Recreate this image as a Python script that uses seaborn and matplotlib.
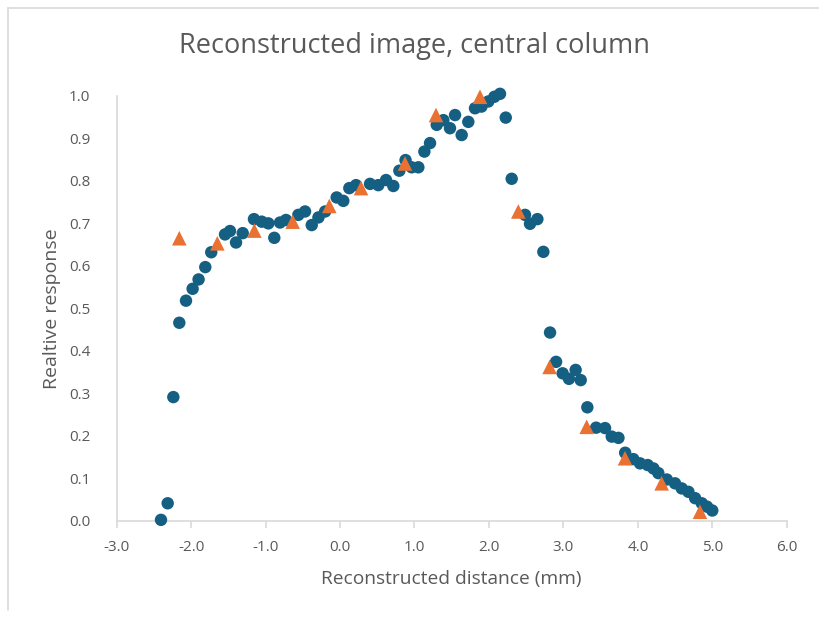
import pandas as pd
import matplotlib
matplotlib.use("Agg")
import matplotlib.pyplot as plt
import seaborn as sns

# measured profile (circles)
meas_x = [-2.405, -2.315, -2.239, -2.159, -2.069, -1.98, -1.90, -1.81, -1.73, -1.545, -1.478,
          -1.397, -1.307, -1.156, -1.052, -0.963, -0.883, -0.806, -0.726, -0.56, -0.47, -0.38,
          -0.29, -0.20, -0.045, 0.044, 0.125, 0.215, 0.403, 0.514, 0.618, 0.716, 0.797, 0.88,
          0.963, 1.052, 1.133, 1.209, 1.299, 1.388, 1.477, 1.545, 1.634, 1.723, 1.813, 1.90,
          1.992, 2.073, 2.149, 2.226, 2.306, 2.485, 2.552, 2.651, 2.731, 2.821, 2.902, 2.99,
          3.075, 3.165, 3.233, 3.322, 3.44, 3.56, 3.65, 3.74, 3.83, 3.94, 4.03, 4.133, 4.21,
          4.276, 4.39, 4.50, 4.59, 4.68, 4.77, 4.86, 4.93, 5.0]
meas_y = [0.002, 0.041, 0.291, 0.466, 0.518, 0.546, 0.568, 0.597, 0.632, 0.674, 0.682,
          0.655, 0.677, 0.710, 0.704, 0.700, 0.666, 0.702, 0.708, 0.720, 0.728, 0.696,
          0.714, 0.728, 0.761, 0.753, 0.783, 0.790, 0.793, 0.790, 0.802, 0.788, 0.824, 0.849,
          0.832, 0.832, 0.869, 0.889, 0.932, 0.943, 0.924, 0.955, 0.908, 0.939, 0.971, 0.975,
          0.987, 0.998, 1.005, 0.949, 0.805, 0.720, 0.699, 0.710, 0.633, 0.443, 0.374, 0.347,
          0.334, 0.355, 0.331, 0.267, 0.219, 0.218, 0.198, 0.195, 0.160, 0.145, 0.135, 0.131, 0.123,
          0.112, 0.097, 0.088, 0.076, 0.068, 0.053, 0.041, 0.033, 0.024]

# reconstructed samples (triangles)
tri_x = [-2.159, -1.648, -1.151, -0.636, -0.144, 0.282, 0.873, 1.289, 1.880, 2.395, 2.815,
         3.313, 3.828, 4.32, 4.835]
tri_y = [0.665, 0.653, 0.683, 0.704, 0.741, 0.783, 0.841, 0.955, 0.998, 0.728, 0.362,
         0.221, 0.147, 0.088, 0.021]

blue = "#156082"
orange = "#E97132"
grey_txt = "#595959"
grey_line = "#D9D9D9"

sns.set_theme(style="white")
plt.rcParams['font.family'] = ['Open Sans', 'DejaVu Sans']

meas = pd.DataFrame({"x": meas_x, "y": meas_y})
tri = pd.DataFrame({"x": tri_x, "y": tri_y})

fig = plt.figure(figsize=(8.2, 6.19), dpi=100)
ax = fig.add_axes([0.1423, 0.1588, 0.8171, 0.6862])

sns.scatterplot(data=meas, x="x", y="y", ax=ax, color=blue, s=80, marker="o",
                edgecolor="none", zorder=3, clip_on=False)
sns.scatterplot(data=tri, x="x", y="y", ax=ax, color=orange, s=110, marker="^",
                edgecolor="none", zorder=4, clip_on=False)

ax.set_xlim(-3, 6)
ax.set_ylim(0, 1.0)
ax.set_xticks([-3, -2, -1, 0, 1, 2, 3, 4, 5, 6])
ax.set_xticklabels([f"{v:.1f}" for v in [-3, -2, -1, 0, 1, 2, 3, 4, 5, 6]])
ax.set_yticks([i / 10 for i in range(11)])
ax.set_yticklabels([f"{i / 10:.1f}" for i in range(11)])

for side in ["top", "right"]:
    ax.spines[side].set_visible(False)
for side in ["left", "bottom"]:
    ax.spines[side].set_color(grey_line)
    ax.spines[side].set_linewidth(1.2)

ax.tick_params(axis="x", direction="out", length=5, width=1.2, color=grey_line,
               labelcolor=grey_txt, labelsize=11, pad=9, bottom=True)
ax.tick_params(axis="y", length=0, labelcolor=grey_txt, labelsize=11, pad=19, left=False)

ax.set_xlabel("Reconstructed distance (mm)", color=grey_txt, fontsize=13.8, labelpad=11)
ax.set_ylabel("Realtive response", color=grey_txt, fontsize=14, labelpad=6)
fig.text(0.506, 0.926, "Reconstructed image, central column", ha="center", va="center",
         color=grey_txt, fontsize=19.5)

# chart area border (top and left edges visible)
fig.add_artist(plt.Line2D([8 / 820, 1], [1 - 8 / 619, 1 - 8 / 619], color=grey_line, lw=1.2))
fig.add_artist(plt.Line2D([8 / 820, 8 / 820], [1 - 8 / 619, 0.015], color=grey_line, lw=1.2))

fig.savefig("out.png", dpi=100)
